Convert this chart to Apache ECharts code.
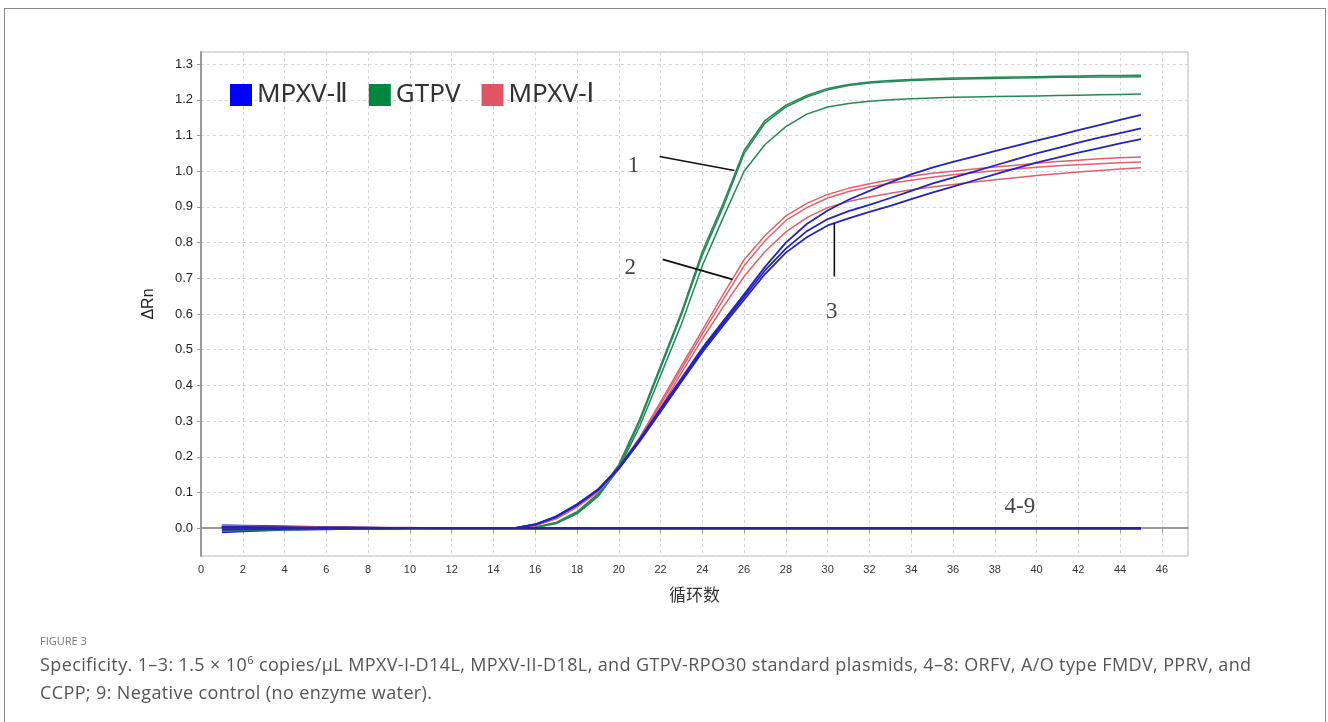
<!DOCTYPE html>
<html>
<head>
<meta charset="utf-8">
<script src="https://cdn.jsdelivr.net/npm/echarts@6.0.0/dist/echarts.min.js"></script>
<style>
  html, body { margin: 0; padding: 0; background: #fff; }
  .card { position: absolute; left: 4px; top: 8px; width: 1322px; height: 740px; border: 1px solid #8a8a8a; box-sizing: border-box; }
  #chart { position: absolute; left: 0; top: 0; width: 1328px; height: 722px; }
  .fig { position: absolute; left: 40px; top: 633px; font: 11px "Open Sans", sans-serif; color: #777; }
  .cap { position: absolute; left: 40px; top: 650px; width: 1275px; font: 18px/28px "Open Sans", sans-serif; color: #555; letter-spacing: 0.38px; }
  .cap sup { font-size: 11px; line-height: 0; }
</style>
</head>
<body>
<div class="card"></div>
<div id="chart"></div>
<div class="fig">FIGURE 3</div>
<div class="cap">Specificity. 1–3: 1.5 × 10<sup>6</sup> copies/μL MPXV-I-D14L, MPXV-II-D18L, and GTPV-RPO30 standard plasmids, 4–8: ORFV, A/O type FMDV, PPRV, and<br>CCPP; 9: Negative control (no enzyme water).</div>
<script>
// cycle numbers (x)
const cycles = [1,2,3,4,5,6,7,8,9,10,11,12,13,14,15,16,17,18,19,20,21,22,23,24,25,26,27,28,29,30,
  31,32,33,34,35,36,37,38,39,40,41,42,43,44,45];

// GTPV (curve 1)
const gtpv1 = [0.004,0.003,0.003,0.002,0.002,0.001,0.001,0.001,0,0,0,0,0,0,0,
  0.003,0.016,0.046,0.096,0.178,0.305,0.455,0.605,0.775,0.910,1.058,1.142,1.185,1.212,1.232,
  1.243,1.250,1.254,1.257,1.259,1.261,1.262,1.263,1.264,1.265,1.266,1.267,1.268,1.268,1.269];
const gtpv2 = [0.003,0.003,0.002,0.002,0.001,0.001,0.001,0,0,0,0,0,0,0,0,
  0.002,0.014,0.043,0.092,0.172,0.298,0.448,0.598,0.765,0.900,1.050,1.135,1.180,1.208,1.228,
  1.240,1.247,1.251,1.254,1.256,1.258,1.259,1.260,1.261,1.262,1.263,1.263,1.264,1.264,1.265];
const gtpv3 = [0.004,0.003,0.002,0.002,0.001,0.001,0,0,0,0,0,0,0,0,0,
  0.002,0.013,0.040,0.088,0.166,0.285,0.428,0.572,0.735,0.870,1.000,1.075,1.125,1.160,1.180,
  1.190,1.196,1.200,1.203,1.205,1.207,1.208,1.209,1.210,1.211,1.212,1.213,1.214,1.215,1.216];

// MPXV-I (curve 2)
const mpxv1a = [0.006,0.005,0.004,0.003,0.003,0.002,0.002,0.001,0.001,0.001,0,0,0,0,0,
  0.008,0.028,0.062,0.105,0.170,0.254,0.354,0.455,0.555,0.655,0.752,0.820,0.875,0.910,0.935,
  0.952,0.965,0.976,0.986,0.994,1.000,1.006,1.012,1.017,1.022,1.027,1.031,1.035,1.038,1.040];
const mpxv1b = [0.005,0.004,0.004,0.003,0.002,0.002,0.001,0.001,0.001,0,0,0,0,0,0,
  0.008,0.027,0.060,0.103,0.168,0.250,0.347,0.446,0.544,0.640,0.735,0.805,0.862,0.898,0.925,
  0.943,0.956,0.966,0.975,0.983,0.990,0.996,1.001,1.006,1.011,1.015,1.018,1.021,1.024,1.026];
const mpxv1c = [0.004,0.004,0.003,0.003,0.002,0.002,0.001,0.001,0,0,0,0,0,0,0,
  0.007,0.026,0.059,0.101,0.166,0.244,0.338,0.435,0.530,0.620,0.705,0.775,0.830,0.870,0.898,
  0.915,0.928,0.938,0.948,0.956,0.963,0.970,0.976,0.982,0.988,0.993,0.998,1.002,1.006,1.010];

// MPXV-II (curve 3)
const mpxv2a = [-0.012,-0.009,-0.007,-0.005,-0.004,-0.003,-0.002,-0.001,-0.001,0,0,0,0,0,0,
  0.010,0.032,0.066,0.108,0.170,0.250,0.335,0.420,0.505,0.580,0.655,0.732,0.800,0.852,0.890,
  0.920,0.945,0.969,0.991,1.010,1.026,1.041,1.056,1.071,1.086,1.100,1.115,1.129,1.144,1.158];
const mpxv2b = [0.008,0.007,0.006,0.005,0.004,0.003,0.002,0.002,0.001,0.001,0,0,0,0,0,
  0.011,0.033,0.067,0.108,0.168,0.246,0.330,0.414,0.498,0.575,0.648,0.722,0.783,0.832,0.866,
  0.888,0.906,0.925,0.945,0.965,0.982,0.999,1.016,1.033,1.050,1.065,1.080,1.094,1.107,1.120];
const mpxv2c = [0.007,0.006,0.005,0.004,0.003,0.003,0.002,0.001,0.001,0,0,0,0,0,0,
  0.010,0.031,0.065,0.106,0.166,0.243,0.326,0.410,0.493,0.568,0.640,0.712,0.772,0.815,0.848,
  0.868,0.886,0.903,0.922,0.940,0.957,0.974,0.991,1.008,1.024,1.038,1.052,1.065,1.078,1.090];

// 4-9: ORFV, FMDV, PPRV, CCPP, negative control
const neg4 = [0.006,0.005,0.004,0.003,0.003,0.002,0.002,0.001,0.001,0.001,0,0,0,0,0,
  0,0,0,0,0,0,0,0,0,0,0,0,0,0,0,0,0,0,0,0,0,0,0,0,0,0,0,0,0,0];
const neg5 = [-0.008,-0.006,-0.005,-0.004,-0.003,-0.002,-0.002,-0.001,-0.001,0,0,0,0,0,0,
  0,0,0,0,0,0,0,0,0,0,0,0,0,0,0,0,0,0,0,0,0,0,0,0,0,0,0,0,0,0];
const neg6 = [0.003,0.003,0.002,0.002,0.001,0.001,0.001,0,0,0,0,0,0,0,0,
  0,0,0,0,0,0,0,0,0,0,0,0,0,0,0,0,0,0,0,0,0,0,0,0,0,0,0,0,0,0];
const neg7 = [-0.004,-0.003,-0.003,-0.002,-0.002,-0.001,-0.001,0,0,0,0,0,0,0,0,
  0,0,0,0,0,0,0,0,0,0,0,0,0,0,0,0,0,0,0,0,0,0,0,0,0,0,0,0,0,0];
const neg8 = [0.001,0.001,0.001,0.001,0,0,0,0,0,0,0,0,0,0,0,
  0,0,0,0,0,0,0,0,0,0,0,0,0,0,0,0,0,0,0,0,0,0,0,0,0,0,0,0,0,0];
const neg9 = [0.002,0.002,0.001,0.001,0.001,0,0,0,0,0,0,0,0,0,0,
  0,0,0,0,0,0,0,0,0,0,0,0,0,0,0,0,0,0,0,0,0,0,0,0,0,0,0,0,0,0];

// annotation labels and leader lines, in data units [cycle, ΔRn]
const labelText = ['1', '2', '3', '4-9'];
const labelPos = [[20.7, 1.015], [20.55, 0.728], [30.2, 0.605], [39.2, 0.06]];
const leader1 = [[21.95, 1.041], [25.54, 1.002]];
const leader2 = [[22.1, 0.753], [25.44, 0.697]];
const leader3 = [[30.32, 0.854], [30.32, 0.705]];

const blue = '#2323c4', green = '#238a55', red = '#e0606c';

const chart = echarts.init(document.getElementById('chart'));

const pairs = vals => vals.map((v, i) => [cycles[i], v]);
const curve = (name, vals, color, width) => ({
  name: name, type: 'line', data: pairs(vals), showSymbol: false, symbol: 'none',
  lineStyle: { color: color, width: width || 1.5 }, itemStyle: { color: color },
  silent: true, z: 2
});
const leader = pts => ({
  type: 'line', data: pts, symbol: 'none', silent: true, z: 5,
  lineStyle: { color: '#111', width: 1.6 }
});

const series = [
  curve('GTPV', gtpv3, green), curve('GTPV', gtpv2, green), curve('GTPV', gtpv1, green),
  curve('MPXV-Ⅰ', mpxv1c, red), curve('MPXV-Ⅰ', mpxv1b, red), curve('MPXV-Ⅰ', mpxv1a, red),
  curve('MPXV-Ⅱ', mpxv2c, blue, 1.8), curve('MPXV-Ⅱ', mpxv2b, blue, 1.8), curve('MPXV-Ⅱ', mpxv2a, blue, 1.8),
  curve('neg', neg4, red, 2), curve('neg', neg5, green, 2), curve('neg', neg6, blue, 2),
  curve('neg', neg7, blue, 2), curve('neg', neg8, '#3a22a8', 2), curve('neg', neg9, '#2a1fb0', 2),
  leader(leader1), leader(leader2), leader(leader3),
  {
    type: 'scatter', symbolSize: 0, silent: true, z: 6,
    data: labelPos.map((p, i) => ({ value: p, name: labelText[i] })),
    label: {
      show: true, position: 'inside', formatter: p => p.name,
      fontFamily: 'Liberation Serif', fontSize: 23, color: '#111'
    }
  }
];

chart.setOption({
  animation: false,
  backgroundColor: 'transparent',
  grid: { left: 201, top: 52, right: 140, bottom: 166, show: true, borderColor: '#bdbdbd', borderWidth: 1 },
  legend: {
    left: 225, top: 77, icon: 'rect', itemWidth: 22, itemHeight: 22, itemGap: 21,
    textStyle: { fontSize: 26, color: '#333', fontFamily: '"Noto Sans", "DejaVu Sans", sans-serif' },
    data: [
      { name: 'MPXV-Ⅱ', itemStyle: { color: '#0000ff', borderWidth: 0 } },
      { name: 'GTPV', itemStyle: { color: '#00873e', borderWidth: 0 } },
      { name: 'MPXV-Ⅰ', itemStyle: { color: '#e05565', borderWidth: 0 } }
    ],
    selectedMode: false
  },
  xAxis: {
    type: 'value', min: 0, max: 47.25, interval: 2,
    name: '循环数', nameLocation: 'middle', nameGap: 30,
    nameTextStyle: { fontSize: 17, color: '#333', fontFamily: 'Noto Sans CJK SC' },
    axisLine: { lineStyle: { color: '#9a9a9a', width: 2 } },
    axisTick: { length: 5, lineStyle: { color: '#9a9a9a' } },
    axisLabel: { fontSize: 11, color: '#333', fontFamily: 'Liberation Sans', margin: 8, showMaxLabel: false },
    splitLine: { lineStyle: { color: '#d6d6d6', type: [3, 3], width: 1 } }
  },
  yAxis: {
    type: 'value', min: -0.078, max: 1.334, minInterval: 0.1, maxInterval: 0.1, splitNumber: 14,
    name: 'ΔRn', nameLocation: 'middle', nameGap: 44,
    nameTextStyle: { fontSize: 16, color: '#222', fontFamily: 'Liberation Sans' },
    axisLine: { show: true, lineStyle: { color: '#9a9a9a', width: 2 } },
    axisTick: { show: true, length: 4, lineStyle: { color: '#9a9a9a' } },
    axisLabel: {
      fontSize: 13, color: '#222', fontFamily: 'Liberation Sans', margin: 8,
      showMinLabel: false, showMaxLabel: false, formatter: v => v.toFixed(1)
    },
    splitLine: { lineStyle: { color: '#d6d6d6', type: [3, 3], width: 1 } }
  },
  series: series
});
</script>
</body>
</html>
